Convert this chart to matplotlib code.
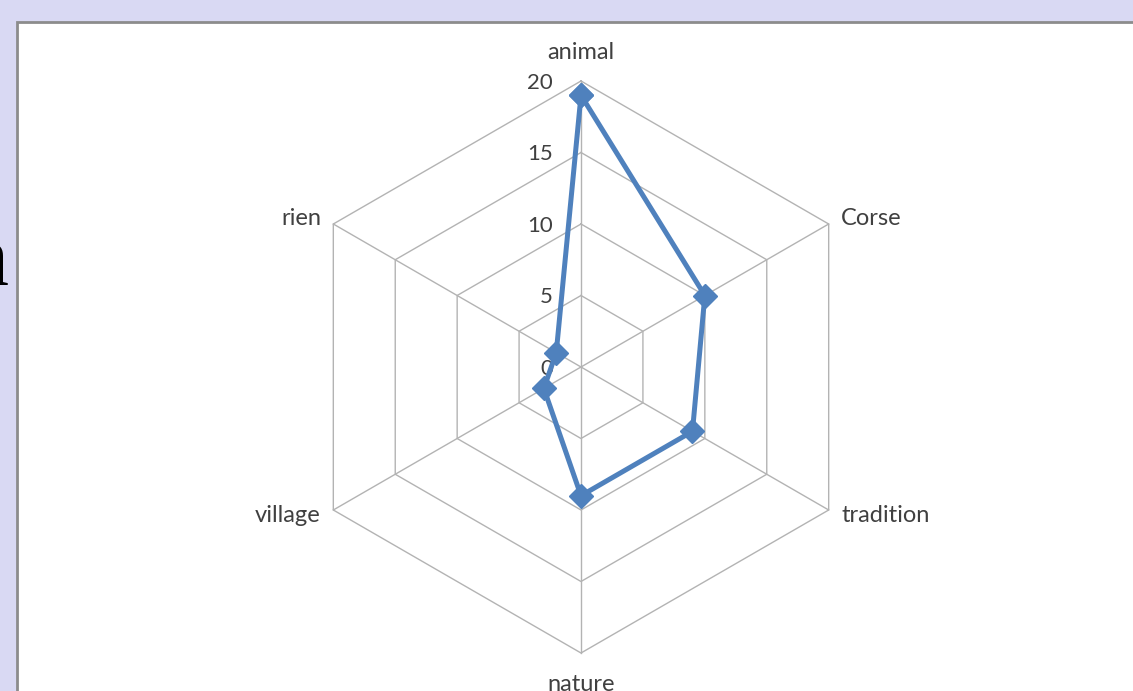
import numpy as np
import matplotlib.pyplot as plt
from matplotlib.patches import Rectangle

categories = ['animal', 'Corse', 'tradition', 'nature', 'village', 'rien']
values = [19, 10, 9, 9, 3, 2]
ticks = [0, 5, 10, 15, 20]

plt.rcParams['font.family'] = ['Lato', 'DejaVu Sans']

W, H = 1133, 691
fig = plt.figure(figsize=(W / 100, H / 100), dpi=100)
fig.patch.set_facecolor('#d9d9f3')

# slide text behind the chart, mostly hidden
fig.text(-0.03, 1 - 285 / H, 'n', fontsize=62, color='black', family='Liberation Serif',
         ha='left', va='baseline', zorder=0)

# white chart area with grey border
fig.patches.append(Rectangle((17 / W, -0.05), 1.2, 1 - 22 / H + 0.05, transform=fig.transFigure,
                             facecolor='white', edgecolor='#8c8c8c', linewidth=2, zorder=1))

# radar in value units: center at (581, 367) px, 14.3 px per unit
px = 14.3
cx, cy = 581, 367
ax = fig.add_axes([0, 0, 1, 1], zorder=2)
ax.set_xlim(-cx / px, (W - cx) / px)
ax.set_ylim(-(H - cy) / px, cy / px)
ax.axis('off')
ax.patch.set_alpha(0)

n = len(categories)
ang = np.pi / 2 - np.arange(n) * 2 * np.pi / n
rmax = ticks[-1]

for t in ticks[1:]:
    xs = np.append(t * np.cos(ang), t * np.cos(ang[0]))
    ys = np.append(t * np.sin(ang), t * np.sin(ang[0]))
    ax.plot(xs, ys, color='#b3b3b3', lw=1.0, zorder=1)
for a in ang:
    ax.plot([0, rmax * np.cos(a)], [0, rmax * np.sin(a)], color='#b3b3b3', lw=1.0, zorder=1)

for t in ticks:
    ax.text(-1.95, t - 0.12, str(t), ha='right', va='center', fontsize=16, color='#404040')

v = np.array(values)
ax.plot(np.append(v * np.cos(ang), v[0] * np.cos(ang[0])),
        np.append(v * np.sin(ang), v[0] * np.sin(ang[0])),
        color='#4f81bd', lw=3.6, marker='D', ms=12, zorder=3)

for c, a in zip(categories, ang):
    ca, sa = np.cos(a), np.sin(a)
    if abs(ca) < 1e-6:
        if sa > 0:
            ax.text(0, rmax + 1.25, c, ha='center', va='bottom', fontsize=17, color='#404040')
        else:
            ax.text(0, -rmax - 1.45, c, ha='center', va='top', fontsize=17, color='#404040')
    else:
        x = (rmax + 1.0) * ca
        y = rmax * sa + 0.4 * np.sign(sa)
        ax.text(x, y, c, ha='left' if ca > 0 else 'right', va='center', fontsize=17, color='#404040')

fig.savefig('out.png', dpi=100)
